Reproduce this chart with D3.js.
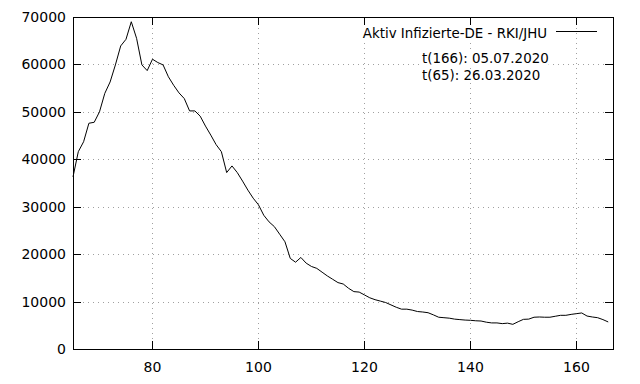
<!DOCTYPE html>
<html>
<head>
<meta charset="utf-8">
<script src="https://cdn.jsdelivr.net/npm/d3@7"></script>
<style>
  body { margin: 0; background: #fff; }
  svg text { font-family: "DejaVu Sans", sans-serif; font-size: 14px; fill: #000; }
  svg text.key { font-size: 13.4px; }
</style>
</head>
<body>
<div id="chart"></div>
<script>
// day numbers (t) and active infections
var days = d3.range(65, 167);
var active = [
  36300, 41600, 43700, 47600, 47800, 50000, 53900, 56300, 59900, 63900,
  65300, 69000, 65500, 59900, 58700, 61100, 60400, 59900, 57400, 55600,
  54000, 52800, 50200, 50200, 49100, 47000, 45100, 43100, 41600, 37200,
  38600, 37200, 35400, 33500, 31800, 30400, 28200, 26800, 25800, 24200,
  22600, 19100, 18300, 19300, 18100, 17400, 17000, 16200, 15400, 14700,
  14000, 13700, 12800, 12100, 12000, 11400, 10800, 10400, 10100, 9800,
  9300, 8800, 8400, 8400, 8200, 7900, 7800, 7650, 7200, 6700,
  6600, 6500, 6300, 6200, 6100, 6050, 5950, 5900, 5650, 5500,
  5500, 5350, 5450, 5200, 5750, 6250, 6300, 6700, 6750, 6700,
  6700, 6900, 7100, 7100, 7300, 7450, 7600, 6950, 6750, 6600,
  6200, 5700
];
var xTicks = [80, 100, 120, 140, 160];
var yTicks = [0, 10000, 20000, 30000, 40000, 50000, 60000, 70000];
var keyTitle = "Aktiv Infizierte-DE - RKI/JHU";
var notes = ["t(166): 05.07.2020", "t(65): 26.03.2020"];

var width = 640, height = 384;
var margin = {left: 73, right: 27, top: 17, bottom: 35};

var svg = d3.select("#chart").append("svg")
    .attr("width", width)
    .attr("height", height);

var x = d3.scaleLinear().domain([65, 166.9]).range([margin.left, width - margin.right]);
var y = d3.scaleLinear().domain([0, 70000]).range([height - margin.bottom, margin.top]);

var x0 = x.range()[0], x1 = x.range()[1];
var y0 = y.range()[0], y1 = y.range()[1];

// grid
var grid = svg.append("g")
    .attr("stroke", "#a0a0a0")
    .attr("stroke-width", 1)
    .attr("stroke-dasharray", "1,4");
grid.selectAll(".gx").data(xTicks).enter().append("line")
    .attr("x1", function(d) { return Math.round(x(d)) + 0.5; })
    .attr("x2", function(d) { return Math.round(x(d)) + 0.5; })
    .attr("y1", y0).attr("y2", y1);
grid.selectAll(".gy").data(yTicks.slice(1, -1)).enter().append("line")
    .attr("y1", function(d) { return Math.round(y(d)) + 0.5; })
    .attr("y2", function(d) { return Math.round(y(d)) + 0.5; })
    .attr("x1", x0).attr("x2", x1);

// white boxes behind the key and notes
var bg = svg.append("g").attr("fill", "#fff");

// data line
var line = d3.line()
    .x(function(d, i) { return x(days[i]); })
    .y(function(d) { return y(d); });

svg.append("path")
    .datum(active)
    .attr("fill", "none")
    .attr("stroke", "#000")
    .attr("stroke-width", 1)
    .attr("d", line);

// ticks inward, mirrored
var tickLen = 8;
var ticks = svg.append("g").attr("stroke", "#000").attr("stroke-width", 1);
xTicks.forEach(function(d) {
  var px = Math.round(x(d)) + 0.5;
  ticks.append("line").attr("x1", px).attr("x2", px).attr("y1", y0).attr("y2", y0 - tickLen);
  ticks.append("line").attr("x1", px).attr("x2", px).attr("y1", y1).attr("y2", y1 + tickLen);
});
yTicks.forEach(function(d) {
  var py = Math.round(y(d)) + 0.5;
  ticks.append("line").attr("y1", py).attr("y2", py).attr("x1", x0).attr("x2", x0 + tickLen);
  ticks.append("line").attr("y1", py).attr("y2", py).attr("x1", x1).attr("x2", x1 - tickLen);
});

// frame
svg.append("rect")
    .attr("x", Math.round(x0) + 0.5).attr("y", Math.round(y1) + 0.5)
    .attr("width", Math.round(x1) - Math.round(x0))
    .attr("height", Math.round(y0) - Math.round(y1))
    .attr("fill", "none").attr("stroke", "#000").attr("stroke-width", 1);

// tick labels
svg.append("g").selectAll("text").data(xTicks).enter().append("text")
    .attr("x", function(d) { return x(d); })
    .attr("y", y0 + 23)
    .attr("text-anchor", "middle")
    .text(function(d) { return d; });
svg.append("g").selectAll("text").data(yTicks).enter().append("text")
    .attr("x", x0 - 7)
    .attr("y", function(d) { return y(d) + 5; })
    .attr("text-anchor", "end")
    .text(function(d) { return d; });

// key
var key = svg.append("text")
    .attr("class", "key")
    .attr("x", 547).attr("y", 38)
    .attr("text-anchor", "end")
    .text(keyTitle);
svg.append("line")
    .attr("x1", 556).attr("x2", 597)
    .attr("y1", 31.5).attr("y2", 31.5)
    .attr("stroke", "#000").attr("stroke-width", 1);

// notes
var noteEls = svg.append("g").selectAll("text").data(notes).enter().append("text")
    .attr("class", "key")
    .attr("x", 422)
    .attr("y", function(d, i) { return 63 + i * 17; })
    .text(function(d) { return d; });

[key.node()].concat(noteEls.nodes()).forEach(function(n) {
  var b = n.getBBox();
  bg.append("rect").attr("x", b.x).attr("y", b.y + 1).attr("width", b.width).attr("height", b.height - 1);
});
</script>
</body>
</html>
